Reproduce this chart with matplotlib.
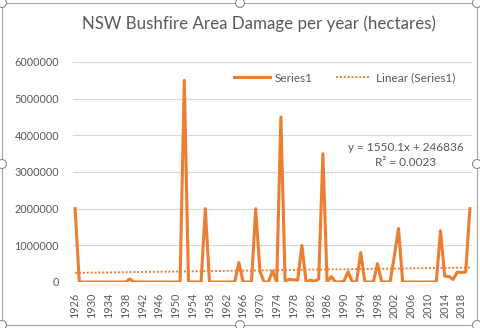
import numpy as np
import matplotlib.pyplot as plt
from matplotlib.patches import Rectangle, Circle

# hectares burnt per year
years = list(range(1926, 2021))
area = [2000000, 0, 0, 0, 0, 0, 0, 0, 0, 0,          # 1926-1935
        0, 0, 0, 80000, 0, 0, 0, 0, 0, 0,            # 1936-1945
        0, 0, 0, 0, 0, 0, 5500000, 0, 0, 0,          # 1946-1955
        0, 2000000, 0, 0, 0, 0, 0, 0, 0, 530000,     # 1956-1965
        0, 0, 0, 2000000, 300000, 0, 0, 300000, 0, 4500000,   # 1966-1975
        30000, 70000, 60000, 50000, 1000000, 0, 50000, 20000, 80000, 3500000,  # 1976-1985
        0, 150000, 0, 0, 20000, 280000, 0, 0, 800000, 0,      # 1986-1995
        0, 0, 500000, 0, 0, 0, 700000, 1460000, 0, 0,         # 1996-2005
        0, 0, 0, 0, 0, 0, 0, 1400000, 160000, 150000,         # 2006-2015
        70000, 270000, 260000, 270000, 2000000]               # 2016-2020

# Excel linear trendline shown on the chart
trend_slope = 1550.1
trend_intercept = 246836
trend_label = "y = 1550.1x + 246836\nR² = 0.0023"

orange = '#ED7D31'
grey_txt = '#595959'
plt.rcParams['font.family'] = ['Lato', 'DejaVu Sans']

fig = plt.figure(figsize=(4.81, 3.28), dpi=100)
ax = fig.add_axes([73/481, 1-282/328, 399/481, 220/328])

idx = np.arange(len(years))
ax.plot(idx, area, color=orange, lw=2.2, solid_joinstyle='round', label='Series1')
trend = trend_slope*(idx+1) + trend_intercept
ax.plot(idx, trend, color=orange, lw=1.4, ls=(0, (1, 1)), label='Linear (Series1)')

ax.set_xlim(-0.5, len(years)-0.5)
ax.set_ylim(0, 6000000)
ax.set_yticks(np.arange(0, 6000001, 1000000))
ax.set_yticklabels([str(v) for v in range(0, 6000001, 1000000)])
ax.set_xticks(idx[::4])
ax.set_xticklabels([str(y) for y in years[::4]], rotation=90)
ax.tick_params(axis='both', length=0, colors=grey_txt, labelsize=7.8)
ax.tick_params(axis='y', pad=10)
ax.tick_params(axis='x', pad=8)
ax.grid(axis='y', color='#D9D9D9', lw=0.8)
ax.set_axisbelow(True)
for s in ax.spines.values():
    s.set_visible(False)
ax.axhline(0, color='#D9D9D9', lw=0.8, zorder=0)

leg = ax.legend(loc='upper right', bbox_to_anchor=(0.985, 1.0), ncol=2, frameon=False,
                fontsize=8.5, handlelength=3.0, columnspacing=2.0, handletextpad=0.4)
for t in leg.get_texts():
    t.set_color(grey_txt)

fig.text(406/481, 1-155/328, trend_label, ha='center', va='center',
         fontsize=8.5, color=grey_txt, linespacing=1.35)

fig.text(259/481, 1-24/328, 'NSW Bushfire Area Damage per year (hectares)',
         ha='center', va='center', fontsize=12.2, color=grey_txt)

# chart frame with selection handles
fig.patches.append(Rectangle((2/481, 3/328), 475/481, 322/328, transform=fig.transFigure,
                             fill=False, ec='#A6A6A6', lw=0.8))
for hx, hy in [(2, 3), (240, 3), (477, 3), (2, 164), (477, 164), (2, 325), (240, 325), (477, 325)]:
    fig.patches.append(Circle((hx, 328-hy), 4.5, transform=None, fc='white', ec='#8C8C8C', lw=0.8))

fig.savefig('out.png', dpi=100)
